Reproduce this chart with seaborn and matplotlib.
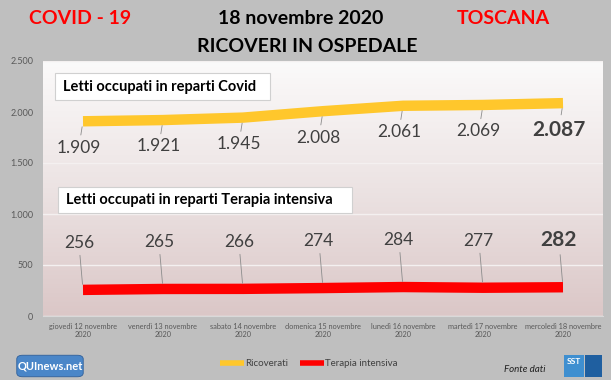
import numpy as np
import pandas as pd
import seaborn as sns
import matplotlib.pyplot as plt
from matplotlib.colors import LinearSegmentedColormap
from matplotlib.ticker import FuncFormatter
from matplotlib.patches import FancyBboxPatch, Rectangle

# dati letti occupati - Toscana, 12-18 novembre 2020
giorni = ["giovedì 12 novembre\n2020", "venerdì 13 novembre\n2020", "sabato 14 novembre\n2020",
          "domenica 15 novembre\n2020", "lunedì 16 novembre\n2020", "martedì 17 novembre\n2020",
          "mercoledì 18 novembre\n2020"]
ricoverati = [1909, 1921, 1945, 2008, 2061, 2069, 2087]
terapia_intensiva = [256, 265, 266, 274, 284, 277, 282]

df = pd.DataFrame({
    "giorno": giorni * 2,
    "letti": ricoverati + terapia_intensiva,
    "serie": ["Ricoverati"] * len(giorni) + ["Terapia intensiva"] * len(giorni),
})

sns.set_style("white")
plt.rcParams["font.family"] = ["Lato", "DejaVu Sans"]

fig = plt.figure(figsize=(6.11, 3.80), dpi=100, facecolor="#bfbfbf")
pos = [43 / 611, 1 - 316 / 380, 560 / 611, 255 / 380]

# sfondo sfumato dell'area del grafico
bg = fig.add_axes(pos, zorder=0)
cmap = LinearSegmentedColormap.from_list("sf", ["#fbfafa", "#ece3e3", "#dbc7c7"])
bg.imshow(np.linspace(0, 1, 256).reshape(-1, 1), cmap=cmap, aspect="auto", extent=[0, 1, 0, 1])
bg.axis("off")

ax = fig.add_axes(pos, zorder=1)
ax.set_facecolor("none")
sns.lineplot(data=df, x="giorno", y="letti", hue="serie",
             palette={"Ricoverati": "#ffc72c", "Terapia intensiva": "#ff0000"},
             lw=7.5, solid_capstyle="butt", legend=False, ax=ax, zorder=3)

ax.set_xlim(-0.5, 6.5)
ax.set_ylim(0, 2500)
ax.set_yticks(range(0, 2501, 500))
ax.yaxis.set_major_formatter(FuncFormatter(lambda v, p: f"{int(v):,}".replace(",", ".")))
ax.grid(axis="y", color="#f4f0f0", lw=1)
ax.set_xlabel("")
ax.set_ylabel("")
for s in ["top", "right", "left"]:
    ax.spines[s].set_visible(False)
ax.spines["bottom"].set_color("#d9d9d9")
ax.tick_params(axis="y", length=0, pad=7, labelsize=6.5, labelcolor="#595959")
ax.tick_params(axis="x", length=0, pad=5, labelsize=5.3, labelcolor="#595959")
ax.set_xticks(np.arange(-0.5, 7, 1), minor=True)
ax.tick_params(axis="x", which="minor", length=5, color="#d9d9d9", direction="out")

# etichette dei valori con linee guida
for i, v in enumerate(ricoverati):
    last = i == len(ricoverati) - 1
    ax.annotate(f"{v:,}".replace(",", "."), xy=(i, v), xytext=(-3, -19), textcoords="offset points",
                ha="center", va="center", fontsize=15 if last else 12.5,
                fontweight="bold" if last else "normal", color="#404040",
                arrowprops=dict(arrowstyle="-", color="#8c8c8c", lw=0.6, shrinkA=1, shrinkB=4), zorder=4)
for i, v in enumerate(terapia_intensiva):
    last = i == len(terapia_intensiva) - 1
    ax.annotate(str(v), xy=(i, v), xytext=(-3, 34), textcoords="offset points",
                ha="center", va="center", fontsize=15 if last else 12.5,
                fontweight="bold" if last else "normal", color="#404040",
                arrowprops=dict(arrowstyle="-", color="#8c8c8c", lw=0.6, shrinkA=1, shrinkB=4), zorder=4)

# riquadri con i nomi delle serie
for (x0, y0, w, h, txt) in [(55, 73, 215, 27, "Letti occupati in reparti Covid"),
                             (58, 187, 294, 26, "Letti occupati in reparti Terapia intensiva")]:
    fig.patches.append(Rectangle((x0 / 611, 1 - (y0 + h) / 380), w / 611, h / 380,
                                 transform=fig.transFigure, facecolor="white",
                                 edgecolor="#d0d0d0", lw=0.8, zorder=5))
    fig.text((x0 + 8) / 611, 1 - (y0 + h / 2) / 380, txt, ha="left", va="center",
             fontsize=10.5, fontweight="bold", color="black", zorder=6)

# titoli
fig.text(80 / 611, 1 - 19 / 380, "COVID - 19", ha="center", va="center",
         fontsize=14, fontweight="bold", color="#ff0000")
fig.text(301 / 611, 1 - 19 / 380, "18 novembre 2020", ha="center", va="center",
         fontsize=14, fontweight="bold", color="black")
fig.text(503 / 611, 1 - 19 / 380, "TOSCANA", ha="center", va="center",
         fontsize=14, fontweight="bold", color="#ff0000")
fig.text(307 / 611, 1 - 46 / 380, "RICOVERI IN OSPEDALE", ha="center", va="center",
         fontsize=14, fontweight="bold", color="black")

# legenda
handles = [plt.Line2D([], [], color="#ffc72c", lw=4, solid_capstyle="butt"),
           plt.Line2D([], [], color="#ff0000", lw=4, solid_capstyle="butt")]
fig.legend(handles, ["Ricoverati", "Terapia intensiva"], loc="center",
           bbox_to_anchor=(309 / 611, 1 - 364 / 380), ncol=2, frameon=False,
           fontsize=7, handlelength=2.5, handletextpad=0.1, columnspacing=1.2,
           labelcolor="#404040")

# loghi e fonte
fig.patches.append(FancyBboxPatch((18 / 611, 1 - 376 / 380), 64 / 611, 20 / 380,
                                  boxstyle="round,pad=0.002,rounding_size=0.01",
                                  transform=fig.transFigure, facecolor="#4a86c8",
                                  edgecolor="#2f5f9a", lw=0.6))
fig.text(50 / 611, 1 - 366 / 380, "QUInews.net", ha="center", va="center",
         fontsize=8, fontweight="bold", color="white")
fig.text(525 / 611, 1 - 369 / 380, "Fonte dati", ha="center", va="center",
         fontsize=7, style="italic", color="#202020")
fig.patches.append(Rectangle((564 / 611, 1 - 377 / 380), 20 / 611, 22 / 380,
                             transform=fig.transFigure, facecolor="#3f8fd0", edgecolor="none"))
fig.patches.append(Rectangle((585 / 611, 1 - 377 / 380), 17 / 611, 22 / 380,
                             transform=fig.transFigure, facecolor="#1f5fa0", edgecolor="none"))
fig.text(574 / 611, 1 - 361 / 380, "SST", ha="center", va="center",
         fontsize=6, fontweight="bold", color="white")

fig.savefig("out.png", dpi=100, facecolor=fig.get_facecolor())
